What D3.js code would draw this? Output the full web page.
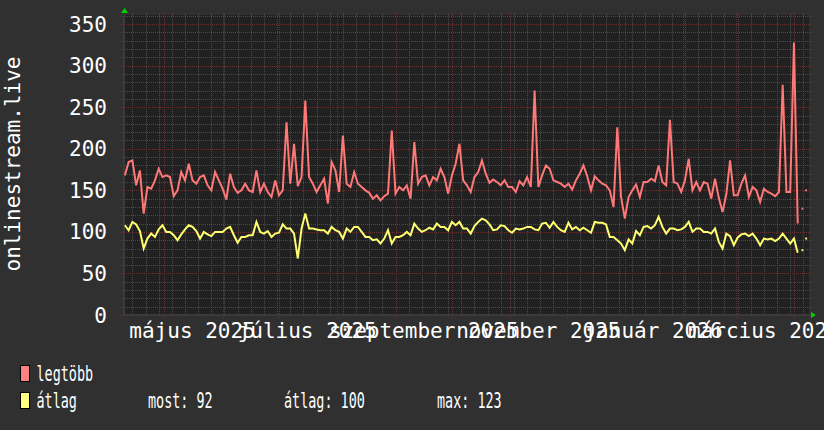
<!DOCTYPE html>
<html>
<head>
<meta charset="utf-8">
<script src="https://cdn.jsdelivr.net/npm/d3@7/dist/d3.min.js"></script>
<style>
  html, body { margin: 0; padding: 0; background: #303030; }
  svg { display: block; }
</style>
</head>
<body>
<div id="chart"></div>
<script>
// Time range of the graph (one year, daily data sampled every 2 days)
var startDate = new Date(Date.UTC(2025, 3, 9));
var endDate = new Date(Date.UTC(2026, 3, 9));
var firstDay = 1;
var dayStep = 2;

// "legtöbb" (daily max) values
var maxValues = [
  168, 184, 186, 156, 174, 122, 154, 152, 162, 176,
  166, 168, 166, 143, 150, 172, 162, 182, 162, 158,
  166, 168, 156, 150, 172, 162, 152, 139, 170, 154,
  147, 150, 158, 150, 148, 174, 148, 158, 148, 142,
  162, 144, 150, 232, 158, 206, 155, 166, 258, 166,
  158, 148, 156, 164, 134, 184, 174, 148, 216, 158,
  154, 172, 158, 154, 150, 147, 140, 144, 138, 143,
  146, 222, 146, 154, 150, 156, 140, 208, 158, 166,
  168, 156, 166, 162, 176, 166, 146, 168, 182, 206,
  162, 156, 148, 166, 172, 186, 170, 159, 163, 160,
  156, 162, 154, 154, 148, 161, 156, 166, 154, 270,
  154, 168, 180, 176, 162, 160, 158, 154, 158, 151,
  162, 170, 180, 167, 150, 167, 162, 158, 156, 150,
  130, 226, 142, 116, 142, 150, 157, 142, 160, 160,
  164, 161, 180, 160, 156, 235, 160, 158, 148, 162,
  188, 150, 160, 150, 160, 158, 140, 164, 141, 124,
  145, 186, 144, 144, 158, 168, 142, 154, 150, 136,
  152, 148, 146, 143, 148, 277, 148, 148, 328, 110
];

// "átlag" (daily average) values
var avgValues = [
  108, 102, 112, 109, 101, 80, 92, 98, 94, 103,
  108, 100, 100, 96, 90, 97, 103, 108, 106, 101,
  92, 100, 97, 95, 100, 100, 100, 104, 106, 96,
  87, 94, 94, 96, 96, 112, 100, 98, 101, 94,
  98, 99, 109, 104, 104, 98, 68, 104, 122, 104,
  104, 103, 102, 102, 98, 106, 102, 100, 92, 104,
  100, 106, 106, 100, 94, 94, 90, 91, 86, 92,
  102, 86, 94, 94, 96, 100, 96, 110, 104, 100,
  102, 105, 103, 110, 106, 106, 102, 112, 108, 112,
  104, 104, 98, 107, 112, 116, 114, 109, 102, 103,
  108, 107, 102, 99, 104, 103, 104, 106, 106, 103,
  102, 110, 111, 105, 112, 106, 102, 100, 111, 103,
  106, 102, 105, 102, 99, 112, 111, 111, 109, 94,
  94, 90, 86, 78, 91, 86, 101, 96, 106, 107,
  104, 108, 118, 106, 98, 104, 104, 102, 103, 106,
  112, 100, 104, 104, 100, 100, 98, 104, 88, 80,
  98, 95, 84, 93, 97, 98, 95, 98, 92, 84,
  92, 91, 92, 89, 92, 98, 92, 86, 92, 75
];

// isolated points after the gap at the end
var tailDays = [361, 363];
var tailMax = [128, 150];
var tailAvg = [78, 92];

var yTicks = [0, 50, 100, 150, 200, 250, 300, 350];
var labelDates = ["2025-05-16", "2025-07-16", "2025-09-16", "2025-11-16", "2026-01-16", "2026-03-16"];
var labelTexts = ["május 2025", "július 2025", "szeptember 2025", "november 2025", "január 2026", "március 2026"];

var legendNames = ["legtöbb", "átlag"];
var legendColors = ["#ff8080", "#ffff80"];
var statTexts = ["most: 92", "átlag: 100", "max: 123"];

// Set up chart dimensions
var width = 824;
var height = 430;
var plot = { left: 123, top: 15, right: 809, bottom: 315 };
var font = "'DejaVu Sans Mono', monospace";

var svg = d3.select("#chart")
  .append("svg")
  .attr("width", width)
  .attr("height", height);

svg.append("rect")
  .attr("width", width)
  .attr("height", height)
  .attr("fill", "#303030");

svg.append("rect")
  .attr("x", plot.left)
  .attr("y", plot.top)
  .attr("width", plot.right - plot.left)
  .attr("height", plot.bottom - plot.top)
  .attr("fill", "#212121");

// Scales
var xScale = d3.scaleUtc()
  .domain([startDate, endDate])
  .range([plot.left, plot.right]);

var yScale = d3.scaleLinear()
  .domain([0, 361])
  .range([plot.bottom, plot.top]);

function crisp(v) { return Math.round(v) + 0.5; }

// Minor grid: weekly (Mondays) and every 10 units
var grid = svg.append("g").attr("shape-rendering", "crispEdges");

grid.selectAll(".vminor")
  .data(d3.utcMonday.range(startDate, endDate))
  .enter().append("line")
  .attr("x1", function (d) { return crisp(xScale(d)); })
  .attr("x2", function (d) { return crisp(xScale(d)); })
  .attr("y1", plot.top - 2)
  .attr("y2", plot.bottom + 2)
  .attr("stroke", "#4a4a4a")
  .attr("stroke-dasharray", "1,1");

grid.selectAll(".hminor")
  .data(d3.range(0, 361, 10).filter(function (v) { return v % 50 !== 0; }))
  .enter().append("line")
  .attr("x1", plot.left - 2)
  .attr("x2", plot.right + 3)
  .attr("y1", function (d) { return crisp(yScale(d)); })
  .attr("y2", function (d) { return crisp(yScale(d)); })
  .attr("stroke", "#4a4a4a")
  .attr("stroke-dasharray", "1,1");

// Major grid: months and the labelled values
grid.selectAll(".vmajor")
  .data(d3.utcMonth.range(d3.utcMonth.ceil(startDate), endDate))
  .enter().append("line")
  .attr("x1", function (d) { return crisp(xScale(d)); })
  .attr("x2", function (d) { return crisp(xScale(d)); })
  .attr("y1", plot.top - 2)
  .attr("y2", plot.bottom + 3)
  .attr("stroke", "#653131")
  .attr("stroke-dasharray", "1,1");

grid.selectAll(".hmajor")
  .data(yTicks)
  .enter().append("line")
  .attr("x1", plot.left - 3)
  .attr("x2", plot.right + 3)
  .attr("y1", function (d) { return crisp(yScale(d)); })
  .attr("y2", function (d) { return crisp(yScale(d)); })
  .attr("stroke", "#653131")
  .attr("stroke-dasharray", "1,1");

// Axis lines
svg.append("line")
  .attr("x1", plot.left + 1).attr("x2", plot.left + 1)
  .attr("y1", plot.top).attr("y2", plot.bottom + 1)
  .attr("stroke", "#3a3a3a").attr("stroke-width", 2);

svg.append("line")
  .attr("x1", plot.left).attr("x2", plot.right + 2)
  .attr("y1", plot.bottom).attr("y2", plot.bottom)
  .attr("stroke", "#3a3a3a").attr("stroke-width", 2);

// Arrows at the axis ends
svg.append("path")
  .attr("d", "M" + (plot.left - 2) + "," + (plot.top - 2) + "L" + (plot.left + 1.5) + "," + (plot.top - 7) + "L" + (plot.left + 5) + "," + (plot.top - 2) + "Z")
  .attr("fill", "#00d000");

svg.append("path")
  .attr("d", "M" + (plot.right + 2) + "," + (plot.bottom - 3) + "L" + (plot.right + 7) + "," + (plot.bottom) + "L" + (plot.right + 2) + "," + (plot.bottom + 3) + "Z")
  .attr("fill", "#00d000");

// Data lines
function dayDate(i) { return d3.utcDay.offset(startDate, firstDay + i * dayStep); }

var line = d3.line()
  .x(function (d, i) { return xScale(dayDate(i)); })
  .y(function (d) { return yScale(d); });

var series = [
  { values: maxValues, tail: tailMax, color: "#ff7878" },
  { values: avgValues, tail: tailAvg, color: "#ffff70" }
];

series.forEach(function (s) {
  svg.append("path")
    .datum(s.values)
    .attr("fill", "none")
    .attr("stroke", s.color)
    .attr("stroke-width", 2)
    .attr("stroke-linejoin", "miter")
    .attr("d", line);

  // isolated samples are drawn as short dashes
  svg.selectAll(null)
    .data(s.tail)
    .enter().append("line")
    .attr("x1", function (d, i) { return xScale(d3.utcDay.offset(startDate, tailDays[i])); })
    .attr("x2", function (d, i) { return xScale(d3.utcDay.offset(startDate, tailDays[i] + 1.2)); })
    .attr("y1", function (d) { return yScale(d); })
    .attr("y2", function (d) { return yScale(d); })
    .attr("stroke", s.color)
    .attr("stroke-width", 2);
});

// Y labels
svg.selectAll(".ylabel")
  .data(yTicks)
  .enter().append("text")
  .attr("x", 107)
  .attr("y", function (d) { return yScale(d) + 7.6; })
  .attr("text-anchor", "end")
  .style("font-family", font)
  .style("font-size", "21px")
  .style("fill", "#ffffff")
  .text(function (d) { return d; });

// X labels (centred in the middle of each second month)
svg.selectAll(".xlabel")
  .data(labelDates)
  .enter().append("text")
  .attr("x", function (d) { return xScale(new Date(d + "T00:00:00Z")); })
  .attr("y", 338)
  .attr("text-anchor", "middle")
  .style("font-family", font)
  .style("font-size", "21px")
  .style("fill", "#ffffff")
  .text(function (d, i) { return labelTexts[i]; });

// Vertical axis title
svg.append("text")
  .attr("transform", "translate(19.5,164) rotate(-90)")
  .attr("text-anchor", "middle")
  .style("font-family", font)
  .style("font-size", "21px")
  .style("fill", "#ffffff")
  .text("onlinestream.live");

// Legend (narrow lettering: squeeze the mono font horizontally)
var squeeze = 0.64;

function legendText(x, y, t) {
  svg.append("text")
    .attr("transform", "translate(" + x + "," + y + ") scale(" + squeeze + ",1)")
    .style("font-family", font)
    .style("font-size", "21px")
    .style("fill", "#ffffff")
    .text(t);
}

legendNames.forEach(function (name, i) {
  var base = 381 + i * 27;
  svg.append("rect")
    .attr("x", 20.5)
    .attr("y", base - 15.5)
    .attr("width", 9)
    .attr("height", 16)
    .attr("fill", legendColors[i])
    .attr("stroke", "#000000");

  legendText(36.5, base, name);
});

var statX = [148, 284, 437];
statTexts.forEach(function (t, i) {
  legendText(statX[i], 408, t);
});
</script>
</body>
</html>
